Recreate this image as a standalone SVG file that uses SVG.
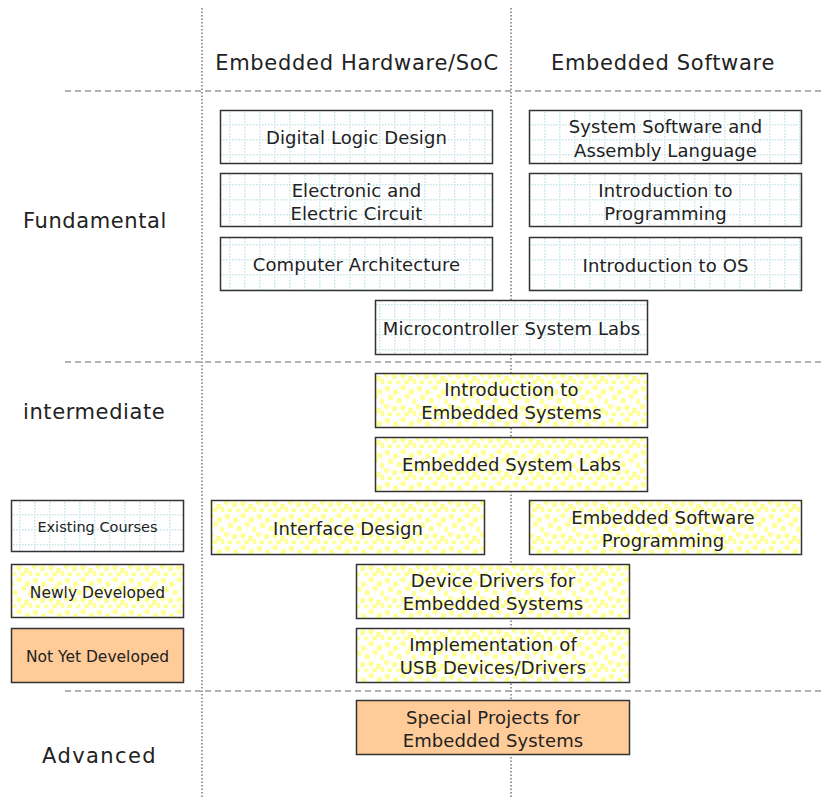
<svg xmlns="http://www.w3.org/2000/svg" width="824" height="799" viewBox="0 0 824 799">
  <defs>
    <!-- light dotted grid for existing courses -->
    <pattern id="grid" width="15" height="15" patternUnits="userSpaceOnUse" x="4" y="4">
      <rect width="15" height="15" fill="#ffffff"/>
      <line x1="0" y1="0.75" x2="15" y2="0.75" stroke="#c6e6e8" stroke-width="1.5" stroke-dasharray="1.5,1.5"/>
      <line x1="0.75" y1="0" x2="0.75" y2="15" stroke="#c6e6e8" stroke-width="1.5" stroke-dasharray="1.5,1.5"/>
    </pattern>
    <!-- scattered yellow specks for newly developed courses -->
    <pattern id="specks" width="32" height="32" patternUnits="userSpaceOnUse">
      <rect width="32" height="32" fill="#ffffff"/>
      <g fill="#ffff99">
        <rect x="1" y="2" width="5" height="5" transform="rotate(15 3 4)"/>
        <rect x="9" y="6" width="5" height="5" transform="rotate(-20 11 8)"/>
        <rect x="17" y="1" width="5" height="5" transform="rotate(30 19 3)"/>
        <rect x="25" y="5" width="5" height="5" transform="rotate(10 27 7)"/>
        <rect x="4" y="11" width="5" height="5" transform="rotate(-10 6 13)"/>
        <rect x="13" y="14" width="5" height="5" transform="rotate(25 15 16)"/>
        <rect x="21" y="10" width="5" height="5" transform="rotate(-25 23 12)"/>
        <rect x="28" y="15" width="4" height="5" transform="rotate(5 30 17)"/>
        <rect x="0" y="20" width="5" height="5" transform="rotate(20 2 22)"/>
        <rect x="8" y="22" width="5" height="5" transform="rotate(-15 10 24)"/>
        <rect x="17" y="21" width="5" height="5" transform="rotate(35 19 23)"/>
        <rect x="24" y="24" width="5" height="5" transform="rotate(-5 26 26)"/>
        <rect x="3" y="28" width="5" height="4" transform="rotate(12 5 30)"/>
        <rect x="12" y="29" width="5" height="3" transform="rotate(-30 14 31)"/>
        <rect x="20" y="28" width="5" height="4" transform="rotate(18 22 30)"/>
        <rect x="29" y="27" width="3" height="5"/>
      </g>
    </pattern>
  </defs>
  <style>
    text { font-family: "DejaVu Sans", "Liberation Sans", sans-serif; fill: #222222; text-anchor: middle; }
    .head { font-size: 21px; letter-spacing: 0.7px; }
    .lvl { font-size: 21px; letter-spacing: 0.6px; text-anchor: start; }
    .box text { font-size: 18px; letter-spacing: 0.1px; }
    .legend text { font-size: 14.5px; }
    .legend.newdev text, .legend.notyet text { font-size: 15.5px; }
    .existing rect { fill: url(#grid); stroke: #333333; stroke-width: 1.5; }
    .newdev rect { fill: url(#specks); stroke: #333333; stroke-width: 1.5; }
    .notyet rect { fill: #ffcc99; stroke: #333333; stroke-width: 1.5; }
    .vsep { stroke: #555555; stroke-width: 1.2; stroke-dasharray: 1.5,2; }
    .hsep { stroke: #999999; stroke-width: 1.5; stroke-dasharray: 6,4; }
  </style>

  <rect width="824" height="799" fill="#ffffff"/>

  <!-- grid lines separating columns and levels -->
  <g id="separators">
    <line class="vsep" x1="202" y1="8" x2="202" y2="799"/>
    <line class="vsep" x1="511" y1="8" x2="511" y2="799"/>
    <line class="hsep" x1="65" y1="91" x2="824" y2="91"/>
    <line class="hsep" x1="65" y1="362" x2="824" y2="362"/>
    <line class="hsep" x1="65" y1="691" x2="824" y2="691"/>
  </g>

  <!-- column and level headings -->
  <g id="headings">
    <text class="head" x="357" y="70">Embedded Hardware/SoC</text>
    <text class="head" x="663" y="70">Embedded Software</text>
    <text class="lvl" x="23" y="228">Fundamental</text>
    <text class="lvl" x="23" y="419">intermediate</text>
    <text class="lvl" x="42" y="763" style="letter-spacing:1.4px">Advanced</text>
  </g>

  <!-- fundamental courses -->
  <g id="digital-logic" class="box existing">
    <rect x="220.5" y="110.5" width="272" height="53"/>
    <text x="356.5" y="144">Digital Logic Design</text>
  </g>
  <g id="system-software" class="box existing">
    <rect x="529.5" y="110.5" width="272" height="53"/>
    <text x="665.5" y="133">System Software and</text>
    <text x="665.5" y="157">Assembly Language</text>
  </g>
  <g id="electronic-circuit" class="box existing">
    <rect x="220.5" y="173.5" width="272" height="53"/>
    <text x="356.5" y="197">Electronic and</text>
    <text x="356.5" y="220">Electric Circuit</text>
  </g>
  <g id="intro-programming" class="box existing">
    <rect x="529.5" y="173.5" width="272" height="53"/>
    <text x="665.5" y="197">Introduction to</text>
    <text x="665.5" y="220">Programming</text>
  </g>
  <g id="computer-architecture" class="box existing">
    <rect x="220.5" y="237.5" width="272" height="53"/>
    <text x="356.5" y="271">Computer Architecture</text>
  </g>
  <g id="intro-os" class="box existing">
    <rect x="529.5" y="237.5" width="272" height="53"/>
    <text x="665.5" y="272">Introduction to OS</text>
  </g>
  <g id="microcontroller-labs" class="box existing">
    <rect x="375.5" y="300.5" width="272" height="54"/>
    <text x="511.5" y="335">Microcontroller System Labs</text>
  </g>

  <!-- intermediate courses -->
  <g id="intro-embedded" class="box newdev">
    <rect x="375.5" y="373.5" width="272" height="54"/>
    <text x="511.5" y="396">Introduction to</text>
    <text x="511.5" y="419">Embedded Systems</text>
  </g>
  <g id="embedded-labs" class="box newdev">
    <rect x="375.5" y="437.5" width="272" height="54"/>
    <text x="511.5" y="471">Embedded System Labs</text>
  </g>
  <g id="interface-design" class="box newdev">
    <rect x="211.5" y="500.5" width="273" height="54"/>
    <text x="348" y="535">Interface Design</text>
  </g>
  <g id="embedded-sw-programming" class="box newdev">
    <rect x="529.5" y="500.5" width="272" height="54"/>
    <text x="663" y="524">Embedded Software</text>
    <text x="663" y="547">Programming</text>
  </g>
  <g id="device-drivers" class="box newdev">
    <rect x="356.5" y="564.5" width="273" height="54"/>
    <text x="493" y="587">Device Drivers for</text>
    <text x="493" y="610">Embedded Systems</text>
  </g>
  <g id="usb-drivers" class="box newdev">
    <rect x="356.5" y="628.5" width="273" height="54"/>
    <text x="493" y="651">Implementation of</text>
    <text x="493" y="674">USB Devices/Drivers</text>
  </g>

  <!-- advanced course -->
  <g id="special-projects" class="box notyet">
    <rect x="356.5" y="700.5" width="273" height="54"/>
    <text x="493" y="724">Special Projects for</text>
    <text x="493" y="747">Embedded Systems</text>
  </g>

  <!-- legend -->
  <g id="legend-existing" class="legend existing">
    <rect x="11.5" y="500.5" width="172" height="51"/>
    <text x="97.5" y="532">Existing Courses</text>
  </g>
  <g id="legend-newdev" class="legend newdev">
    <rect x="11.5" y="564.5" width="172" height="53"/>
    <text x="97.5" y="598">Newly Developed</text>
  </g>
  <g id="legend-notyet" class="legend notyet">
    <rect x="11.5" y="628.5" width="172" height="54"/>
    <text x="97.5" y="662">Not Yet Developed</text>
  </g>
</svg>
